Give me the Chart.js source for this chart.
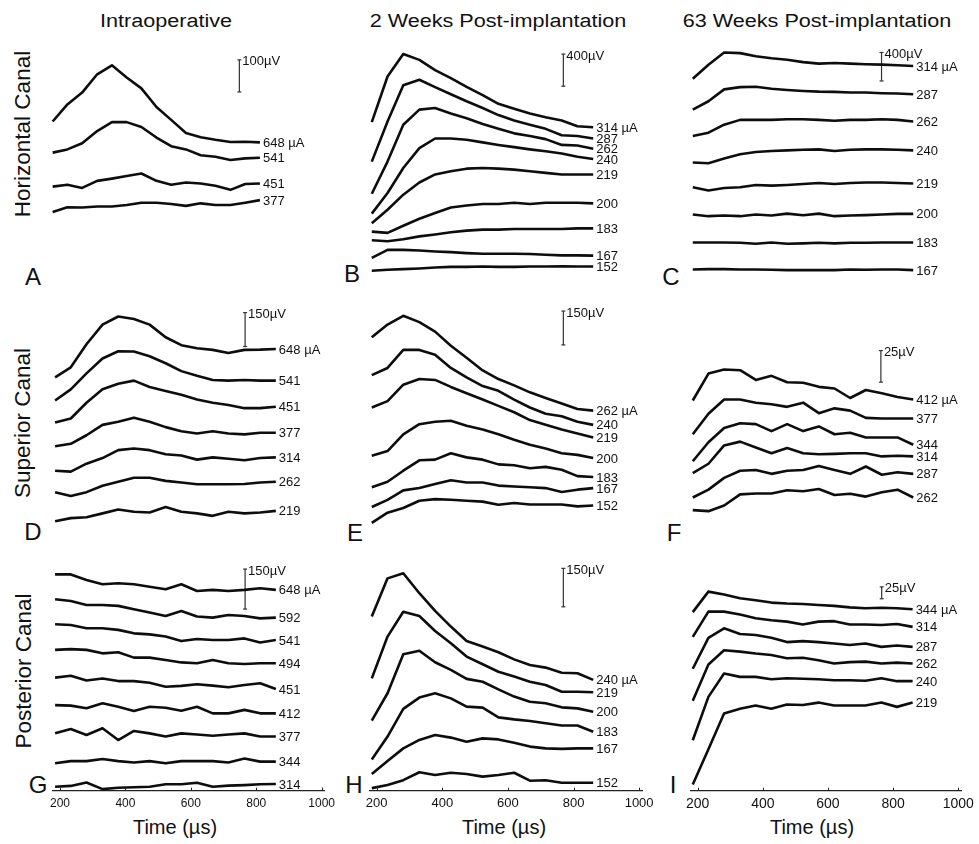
<!DOCTYPE html>
<html>
<head>
<meta charset="utf-8">
<title>ECAP growth functions</title>
<script src="https://cdn.jsdelivr.net/npm/chart.js@4.4.1/dist/chart.umd.min.js"></script>
<style>
  body { margin: 0; background: #fff; }
  #fig { position: relative; width: 979px; height: 844px; overflow: hidden;
         font-family: "Liberation Sans", Arial, sans-serif; color: #111; }
  #fig canvas { position: absolute; }
  .txt { position: absolute; white-space: nowrap; line-height: 1; transform: translate(-50%, -50%); }
  .hdr { font-size: 18px; transform: translate(-50%, -50%) scaleX(1.2); }
  .rowlab { font-size: 22.5px; transform: translate(-50%, -50%) rotate(-90deg); }
  .letter { font-size: 24px; }
  .xtitle { font-size: 20px; }
</style>
</head>
<body>
<div id="fig">
  <div class="txt hdr" style="left:166px;top:21px">Intraoperative</div>
  <div class="txt hdr" style="left:498px;top:21px">2 Weeks Post-implantation</div>
  <div class="txt hdr" style="left:817px;top:21px">63 Weeks Post-implantation</div>

  <div class="txt rowlab" style="left:23px;top:134px">Horizontal Canal</div>
  <div class="txt rowlab" style="left:23px;top:423px">Superior Canal</div>
  <div class="txt rowlab" style="left:24px;top:671px">Posterior Canal</div>

  <div class="txt letter" style="left:33px;top:277px">A</div>
  <div class="txt letter" style="left:352px;top:274px">B</div>
  <div class="txt letter" style="left:671px;top:277px">C</div>
  <div class="txt letter" style="left:33px;top:532px">D</div>
  <div class="txt letter" style="left:355px;top:533px">E</div>
  <div class="txt letter" style="left:674px;top:533px">F</div>
  <div class="txt letter" style="left:38px;top:785px">G</div>
  <div class="txt letter" style="left:354px;top:785px">H</div>
  <div class="txt letter" style="left:673px;top:785px">I</div>

  <div class="txt xtitle" style="left:175px;top:827px">Time (µs)</div>
  <div class="txt xtitle" style="left:504px;top:827px">Time (µs)</div>
  <div class="txt xtitle" style="left:812px;top:827px">Time (µs)</div>
</div>

<script>
// sample times of every trace (µs)
const timeUs = [185, 233, 281, 330, 378, 426, 474, 523, 571, 619, 667, 715, 764, 812, 860];
const xTicks = [200, 400, 600, 800, 1000];
const xMin = 178, xMax = 1010;

// traces are in µV, already stacked with their display offset
// A: horizontal canal, intraoperative
const aCurrents = [648, 541, 451, 377];
const aTraces = [
  [525, 578, 615, 672, 700, 662, 628, 570, 530, 489, 476, 468, 461, 462, 460],
  [428, 438, 457, 495, 523, 523, 508, 475, 448, 438, 420, 415, 405, 410, 412],
  [322, 328, 318, 340, 347, 355, 363, 340, 328, 335, 332, 325, 312, 330, 332],
  [243, 258, 257, 260, 260, 265, 272, 272, 268, 262, 270, 265, 265, 272, 280]
];
const aBar = [793, 717, 100]; // time, top, length (µV)

// B: horizontal canal, 2 weeks
const bCurrents = [314, 287, 262, 240, 219, 200, 183, 167, 152];
const bTraces = [
  [2092, 2660, 2940, 2868, 2740, 2640, 2532, 2428, 2320, 2260, 2200, 2152, 2112, 2040, 2028],
  [1600, 2100, 2552, 2620, 2528, 2440, 2352, 2268, 2180, 2112, 2060, 2008, 1928, 1920, 1888],
  [1200, 1600, 2060, 2248, 2268, 2200, 2140, 2068, 2008, 1952, 1920, 1880, 1808, 1800, 1760],
  [952, 1208, 1520, 1768, 1888, 1888, 1872, 1840, 1808, 1780, 1752, 1728, 1700, 1660, 1632],
  [832, 1000, 1188, 1340, 1440, 1480, 1512, 1520, 1512, 1500, 1480, 1460, 1440, 1440, 1440],
  [728, 712, 800, 888, 960, 1028, 1052, 1072, 1072, 1088, 1072, 1088, 1088, 1088, 1080],
  [620, 608, 632, 668, 692, 720, 740, 752, 752, 760, 760, 760, 760, 768, 768],
  [400, 500, 500, 492, 480, 472, 460, 452, 452, 452, 448, 440, 432, 432, 428],
  [240, 252, 260, 268, 280, 288, 288, 292, 288, 288, 292, 292, 296, 292, 292]
];
const bBar = [769, 2940, 400];

// C: horizontal canal, 63 weeks
const cCurrents = [314, 287, 262, 240, 219, 200, 183, 167];
const cTraces = [
  [2961, 3159, 3330, 3321, 3276, 3249, 3227, 3195, 3173, 3182, 3173, 3164, 3159, 3150, 3141],
  [2529, 2646, 2813, 2844, 2849, 2822, 2804, 2790, 2781, 2777, 2768, 2768, 2759, 2754, 2745],
  [2160, 2205, 2318, 2385, 2385, 2385, 2394, 2394, 2385, 2372, 2385, 2385, 2394, 2385, 2363],
  [1787, 1778, 1845, 1904, 1935, 1949, 1958, 1967, 1971, 1949, 1967, 1971, 1971, 1967, 1958],
  [1440, 1395, 1431, 1440, 1472, 1463, 1472, 1485, 1499, 1485, 1499, 1508, 1508, 1499, 1494],
  [1058, 1035, 1044, 1035, 1058, 1044, 1071, 1049, 1071, 1035, 1044, 1049, 1058, 1067, 1067],
  [666, 666, 666, 662, 648, 666, 648, 653, 662, 653, 662, 662, 666, 666, 666],
  [288, 293, 293, 288, 288, 284, 279, 279, 279, 279, 288, 284, 288, 288, 279]
];
const cBar = [763, 3330, 400];

// D: superior canal, intraoperative
const dCurrents = [648, 541, 451, 377, 314, 262, 219];
const dTraces = [
  [735, 780, 882, 969, 1005, 994, 969, 913, 878, 864, 857, 843, 857, 858, 861],
  [633, 682, 753, 819, 851, 850, 829, 798, 763, 742, 724, 721, 724, 721, 721],
  [535, 553, 623, 683, 707, 721, 693, 675, 658, 637, 623, 613, 599, 599, 605],
  [430, 441, 479, 525, 539, 557, 539, 515, 497, 487, 497, 487, 483, 490, 490],
  [322, 318, 353, 378, 413, 420, 413, 395, 389, 371, 381, 375, 368, 378, 381],
  [227, 210, 227, 255, 273, 291, 291, 277, 270, 262, 262, 262, 263, 270, 273],
  [98, 112, 116, 133, 150, 140, 137, 161, 140, 133, 122, 140, 133, 137, 144]
];
const dBar = [766, 1022, 150];

// E: superior canal, 2 weeks
const eCurrents = [262, 240, 219, 200, 183, 167, 152];
const eTraces = [
  [913, 969, 1008, 980, 938, 875, 822, 766, 728, 700, 669, 644, 620, 595, 588],
  [745, 777, 857, 857, 836, 777, 735, 697, 676, 637, 602, 574, 563, 539, 525],
  [602, 630, 703, 728, 724, 693, 665, 637, 609, 581, 546, 525, 504, 487, 469],
  [388, 409, 483, 528, 539, 543, 521, 504, 483, 459, 437, 420, 399, 392, 378],
  [249, 273, 322, 368, 371, 399, 381, 371, 350, 346, 333, 339, 326, 298, 294],
  [161, 193, 235, 245, 263, 280, 270, 270, 256, 252, 249, 245, 228, 238, 245],
  [91, 136, 157, 189, 196, 193, 189, 185, 171, 179, 172, 172, 172, 164, 168]
];
const eBar = [769, 1029, 150];

// F: superior canal, 63 weeks
const fCurrents = [412, 377, 344, 314, 287, 262];
const fTraces = [
  [113, 134.3, 137.5, 137, 129.3, 132.5, 127.5, 127, 123.8, 122.5, 115, 121.3, 118.8, 115.8, 113.8],
  [86.3, 102.5, 113.8, 113.8, 111.3, 110, 108, 111.3, 103, 106.8, 105, 99.3, 98.8, 98.8, 98.8],
  [65, 80, 91.3, 95, 94.3, 88.8, 94.3, 88.8, 92.5, 86.3, 87.5, 83.8, 83.8, 83.8, 78],
  [55.5, 63, 77.5, 80.5, 75.8, 71.3, 75.5, 71.3, 70.5, 70.8, 71.3, 71.3, 68.8, 69.3, 68.8],
  [36.3, 42.5, 51.8, 57.5, 58, 55, 57.5, 58, 61.3, 58, 55, 60.8, 54.3, 56.3, 55],
  [26.3, 25.5, 30, 38.8, 39.5, 39.5, 42, 41.3, 43, 38.3, 39.3, 37, 40.5, 42.5, 36.3]
];
const fBar = [761, 152.5, 25];

// G: posterior canal, intraoperative
const gCurrents = [648, 592, 541, 494, 451, 412, 377, 344, 314];
const gTraces = [
  [811, 811, 790, 774, 778, 774, 765, 755, 774, 749, 753, 749, 753, 759, 753],
  [718, 711, 696, 696, 693, 680, 668, 655, 674, 653, 649, 659, 655, 646, 649],
  [624, 621, 609, 609, 603, 590, 586, 578, 561, 569, 565, 565, 571, 556, 565],
  [528, 531, 528, 515, 519, 499, 499, 490, 481, 478, 490, 478, 475, 478, 478],
  [424, 431, 413, 421, 411, 411, 405, 390, 393, 399, 394, 388, 396, 403, 381],
  [321, 319, 309, 328, 315, 299, 315, 311, 300, 315, 290, 290, 303, 290, 290],
  [215, 231, 209, 234, 190, 224, 215, 203, 215, 211, 206, 211, 215, 203, 203],
  [103, 111, 111, 119, 111, 106, 111, 103, 111, 111, 111, 106, 121, 109, 109],
  [15, 18, 31, 6, 11, 13, 15, 24, 24, 30, 15, 19, 21, 24, 25]
];
const gBar = [766, 831, 150];

// H: posterior canal, 2 weeks
const hCurrents = [240, 219, 200, 183, 167, 152];
const hTraces = [
  [679, 828, 848, 770, 701, 640, 584, 562, 540, 512, 490, 480, 460, 458, 432],
  [438, 601, 698, 681, 623, 575, 523, 493, 464, 445, 425, 412, 386, 386, 384],
  [273, 380, 532, 546, 501, 471, 436, 425, 395, 367, 347, 341, 325, 321, 308],
  [122, 211, 319, 363, 380, 360, 328, 324, 286, 278, 272, 263, 254, 254, 230],
  [65, 116, 165, 198, 217, 207, 191, 204, 200, 187, 172, 165, 163, 165, 165],
  [10, 22, 41, 72, 61, 70, 65, 55, 61, 70, 39, 41, 31, 31, 31]
];
const hBar = [769, 867, 150];

// I: posterior canal, 63 weeks
const iCurrents = [344, 314, 287, 262, 240, 219];
const iTraces = [
  [375, 418, 412, 404, 400, 395, 393, 392, 390, 388, 385, 383, 384, 383, 381],
  [323, 376, 376, 370, 362, 358, 355, 349, 355, 356, 349, 349, 348, 350, 344],
  [256, 321, 341, 329, 327, 321, 312, 314, 312, 309, 306, 309, 302, 305, 302],
  [189, 265, 295, 292, 288, 285, 278, 279, 274, 267, 270, 271, 267, 269, 267],
  [106, 197, 246, 239, 239, 234, 236, 235, 234, 232, 232, 231, 236, 230, 230],
  [13, 87, 162, 172, 179, 172, 181, 180, 185, 179, 179, 179, 185, 176, 185]
];
const iBar = [765, 428, 25];

const FONT = '"Liberation Sans", Arial, sans-serif';

// canvas boxes per column / row (page px)
const colBox = [[0, 350], [320, 672], [640, 979]];
const rowBox = [[0, 310], [290, 570], [550, 844]];
const tickSize = [12, 13, 14];
const tickPad = [6, 5, 5];

// plot areas [left, top, right, bottom] and y range (µV)
const panels = [
  { col: 0, row: 0, cur: aCurrents, tr: aTraces, bar: aBar, yMax: 810,   area: [50.5, 30, 306, 300] },
  { col: 1, row: 0, cur: bCurrents, tr: bTraces, bar: bBar, yMax: 3240,  area: [369.5, 30, 642.4, 300] },
  { col: 2, row: 0, cur: cCurrents, tr: cTraces, bar: cBar, yMax: 3645,  area: [690.5, 30, 962.2, 300] },
  { col: 0, row: 1, cur: dCurrents, tr: dTraces, bar: dBar, yMax: 1078,  area: [52.8, 300, 324.9, 556.7] },
  { col: 1, row: 1, cur: eCurrents, tr: eTraces, bar: eBar, yMax: 1078,  area: [369.5, 300, 642.4, 556.7] },
  { col: 2, row: 1, cur: fCurrents, tr: fTraces, bar: fBar, yMax: 192.5, area: [690.5, 300, 962.2, 556.7] },
  { col: 0, row: 2, cur: gCurrents, tr: gTraces, bar: gBar, yMax: 865,   area: [52.8, 560, 324.9, 790.7], axis: true },
  { col: 1, row: 2, cur: hCurrents, tr: hTraces, bar: hBar, yMax: 899.6, area: [369.5, 560, 642.4, 790.7], axis: true },
  { col: 2, row: 2, cur: iCurrents, tr: iTraces, bar: iBar, yMax: 484.4, area: [690.5, 560, 962.2, 790.7], axis: true }
];

// current labels at the end of each trace, and the scale bar text
const traceText = {
  id: 'traceText',
  afterDatasetsDraw(chart) {
    const ctx = chart.ctx;
    ctx.save();
    ctx.font = '13px ' + FONT;
    ctx.fillStyle = '#111';
    ctx.textBaseline = 'middle';
    chart.data.datasets.forEach((ds, i) => {
      const pts = chart.getDatasetMeta(i).data;
      if (ds.barText) {
        ctx.fillText(ds.barText, pts[0].x + 3, pts[0].y + 2);
      } else {
        const end = pts[pts.length - 1];
        ctx.fillText(ds.tag, end.x + 3, end.y + 1);
      }
    });
    ctx.restore();
  }
};

// small upward tick marks on the time axis
const innerTicks = {
  id: 'innerTicks',
  afterDraw(chart) {
    const s = chart.scales.x;
    if (!s.options.display) return;
    const ctx = chart.ctx;
    ctx.save();
    ctx.strokeStyle = '#222';
    ctx.lineWidth = 1;
    xTicks.forEach(v => {
      const px = Math.round(s.getPixelForValue(v)) + 0.5;
      ctx.beginPath();
      ctx.moveTo(px, s.top);
      ctx.lineTo(px, s.top - 3);
      ctx.stroke();
    });
    ctx.restore();
  }
};

const fig = document.getElementById('fig');

panels.forEach(p => {
  const cb = colBox[p.col], rb = rowBox[p.row];
  const w = cb[1] - cb[0], h = rb[1] - rb[0];
  const cv = document.createElement('canvas');
  cv.width = w; cv.height = h;
  cv.style.left = cb[0] + 'px'; cv.style.top = rb[0] + 'px';
  cv.style.width = w + 'px'; cv.style.height = h + 'px';
  fig.appendChild(cv);

  const datasets = p.tr.map((vals, i) => ({
    data: vals.map((v, j) => ({ x: timeUs[j], y: v })),
    tag: i === 0 ? p.cur[i] + ' µA' : String(p.cur[i]),
    borderColor: '#0d0d0d',
    borderWidth: 2.6,
    borderJoinStyle: 'round',
    pointRadius: 0,
    tension: 0,
    clip: false
  }));
  datasets.push({
    data: [{ x: p.bar[0], y: p.bar[1] }, { x: p.bar[0], y: p.bar[1] - p.bar[2] }],
    barText: p.bar[2] + 'µV',
    borderColor: '#333',
    borderWidth: 1.2,
    pointStyle: 'line',
    pointRadius: 2,
    pointBorderColor: '#333',
    pointBorderWidth: 1.2,
    clip: false
  });

  new Chart(cv, {
    type: 'line',
    data: { datasets },
    options: {
      responsive: false,
      animation: false,
      devicePixelRatio: 1,
      events: [],
      layout: {
        padding: {
          left: p.area[0] - cb[0],
          right: cb[1] - p.area[2],
          top: p.area[1] - rb[0],
          bottom: p.axis ? 0 : rb[1] - p.area[3]
        }
      },
      plugins: { legend: { display: false }, tooltip: { enabled: false } },
      scales: {
        x: {
          type: 'linear',
          min: xMin,
          max: xMax,
          display: !!p.axis,
          afterBuildTicks: s => { s.ticks = xTicks.map(v => ({ value: v })); },
          afterFit: s => { s.height = rb[1] - p.area[3]; },
          grid: { display: false, drawTicks: false },
          border: { display: true, color: '#222', width: 1.3 },
          ticks: {
            autoSkip: false,
            maxRotation: 0,
            padding: tickPad[p.col],
            color: '#111',
            font: { family: FONT, size: tickSize[p.col] },
            callback: v => String(v)
          }
        },
        y: { type: 'linear', min: 0, max: p.yMax, display: false }
      }
    },
    plugins: [traceText, innerTicks]
  });
});
</script>
</body>
</html>
